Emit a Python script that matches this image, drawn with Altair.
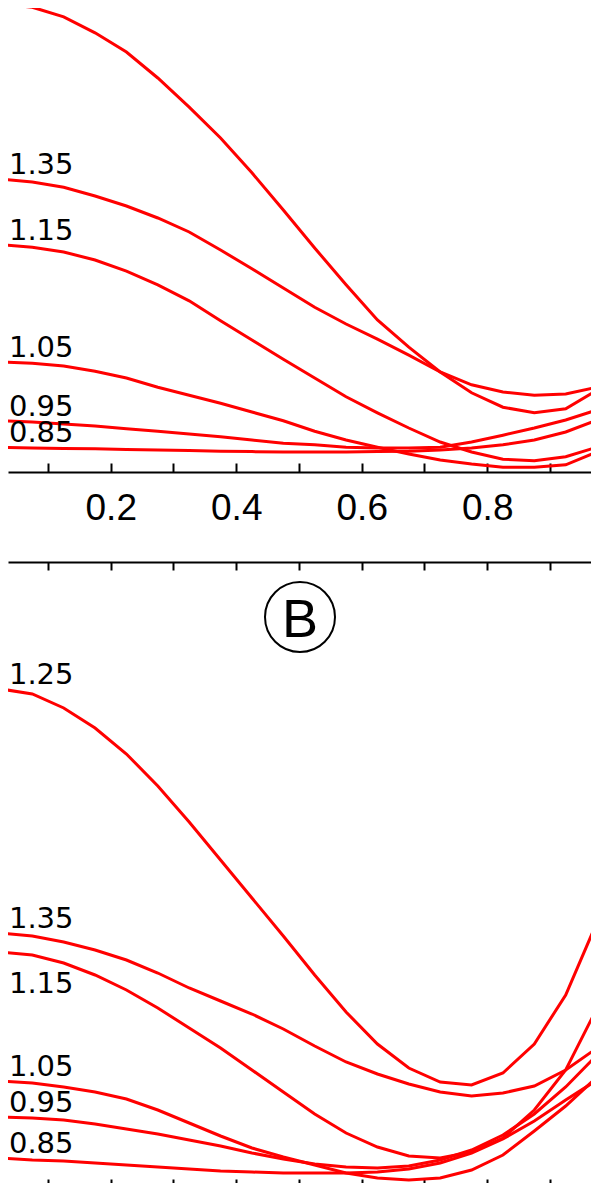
import altair as alt
import pandas as pd

# ---- data ----
x_vals = [0.025, 0.075, 0.125, 0.175, 0.225, 0.275, 0.325, 0.375, 0.425, 0.475,
          0.525, 0.575, 0.625, 0.675, 0.725, 0.775, 0.825, 0.875, 0.925, 0.975]
series = ["0.85", "0.95", "1.05", "1.15", "1.25", "1.35"]

# panel A
a_085 = [0.062, 0.060, 0.059, 0.058, 0.056, 0.055, 0.054, 0.052, 0.051, 0.050,
         0.050, 0.050, 0.051, 0.052, 0.055, 0.060, 0.068, 0.080, 0.100, 0.130]
a_095 = [0.128, 0.125, 0.120, 0.115, 0.108, 0.102, 0.095, 0.088, 0.080, 0.072,
         0.068, 0.062, 0.060, 0.060, 0.062, 0.075, 0.092, 0.110, 0.130, 0.155]
a_105 = [0.275, 0.272, 0.265, 0.252, 0.235, 0.212, 0.192, 0.172, 0.150, 0.128,
         0.102, 0.080, 0.062, 0.045, 0.030, 0.020, 0.012, 0.012, 0.018, 0.050]
a_115 = [0.568, 0.562, 0.550, 0.530, 0.502, 0.468, 0.428, 0.378, 0.330, 0.282,
         0.235, 0.188, 0.148, 0.110, 0.075, 0.050, 0.032, 0.028, 0.038, 0.062]
a_125 = [1.170, 1.162, 1.138, 1.098, 1.050, 0.985, 0.912, 0.835, 0.748, 0.655,
         0.560, 0.468, 0.380, 0.312, 0.250, 0.198, 0.162, 0.148, 0.158, 0.205]
a_135 = [0.732, 0.725, 0.712, 0.690, 0.665, 0.635, 0.600, 0.555, 0.508, 0.460,
         0.412, 0.370, 0.332, 0.292, 0.250, 0.218, 0.200, 0.192, 0.195, 0.212]

# panel B
b_085 = [0.060, 0.056, 0.054, 0.050, 0.046, 0.042, 0.038, 0.034, 0.032, 0.030,
         0.030, 0.030, 0.032, 0.038, 0.050, 0.070, 0.098, 0.134, 0.176, 0.216]
b_095 = [0.142, 0.140, 0.136, 0.128, 0.118, 0.108, 0.096, 0.084, 0.070, 0.058,
         0.048, 0.042, 0.040, 0.044, 0.056, 0.076, 0.106, 0.148, 0.202, 0.266]
b_105 = [0.214, 0.210, 0.202, 0.192, 0.178, 0.156, 0.130, 0.104, 0.080, 0.062,
         0.046, 0.030, 0.020, 0.016, 0.020, 0.036, 0.066, 0.114, 0.164, 0.222]
b_115 = [0.472, 0.466, 0.450, 0.426, 0.396, 0.360, 0.320, 0.280, 0.236, 0.192,
         0.148, 0.110, 0.082, 0.064, 0.060, 0.072, 0.100, 0.156, 0.236, 0.360]
b_125 = [0.998, 0.988, 0.960, 0.920, 0.868, 0.804, 0.732, 0.656, 0.580, 0.504,
         0.426, 0.352, 0.288, 0.240, 0.212, 0.206, 0.230, 0.288, 0.386, 0.532]
b_135 = [0.510, 0.504, 0.492, 0.476, 0.456, 0.430, 0.400, 0.374, 0.348, 0.318,
         0.284, 0.252, 0.228, 0.208, 0.192, 0.184, 0.190, 0.204, 0.236, 0.280]

tick_values = [0.1, 0.2, 0.3, 0.4, 0.5, 0.6, 0.7, 0.8, 0.9]
label_values = [0.2, 0.4, 0.6, 0.8]
panel_letter = "B"

# ---- tables ----
a_series = dict(zip(series, [a_085, a_095, a_105, a_115, a_125, a_135]))
b_series = dict(zip(series, [b_085, b_095, b_105, b_115, b_125, b_135]))


def long_df(d):
    rows = []
    for s, vals in d.items():
        for x, v in zip(x_vals, vals):
            rows.append({"x": x, "v": v, "s": s})
    return pd.DataFrame(rows)


def start_df(d, keys):
    return pd.DataFrame([{"x": x_vals[0], "v": d[k][0], "s": k} for k in keys])


df_a = long_df(a_series)
df_b = long_df(b_series)
# the label of the top curve of panel A lies outside the visible window
lab_a = start_df(a_series, [s for s in series if s != "1.25"])
lab_b_above = start_df(b_series, [s for s in series if s != "1.15"])
lab_b_below = start_df(b_series, ["1.15"])

# ---- layout ----
W, H = 583, 1180
AX_A = 464          # panel A baseline (px from top of view)
AX_B_TOP = 554      # panel B top frame
B_BASE = 1180       # panel B baseline
x_dom = [0.036255, 0.965339]
xs = alt.Scale(domain=x_dom, nice=False, zero=False)
yA = alt.Scale(domain=[(AX_A - H) / 400, AX_A / 400], nice=False, zero=False)
yB = alt.Scale(domain=[(B_BASE - H) / 500, B_BASE / 500], nice=False, zero=False)

common_ax = dict(grid=False, title=None, domainColor="black", domainWidth=2,
                 tickColor="black", tickWidth=2)

ax_a_ticks = alt.Axis(orient="top", offset=-AX_A, values=tick_values, labels=False,
                      tickSize=9, **common_ax)
ax_a_labels = alt.Axis(orient="bottom", offset=-(H - AX_A), values=label_values,
                       format=".1f", ticks=False, tickSize=0, domain=False,
                       labelFlush=False, labelOverlap=False, labelFont="Liberation Sans",
                       labelFontSize=37, labelColor="black", labelPadding=18,
                       grid=False, title=None)
ax_b_top = alt.Axis(orient="bottom", offset=-(H - AX_B_TOP), values=tick_values,
                    labels=False, tickSize=8, **common_ax)
ax_b_bottom = alt.Axis(orient="top", offset=-B_BASE, values=tick_values, labels=False,
                       tickSize=9, **common_ax)

line_style = dict(color="#ff0000", strokeWidth=3, clip=True)
text_style = dict(align="left", baseline="alphabetic", font="DejaVu Sans",
                  fontSize=29, color="black", dx=8)

lines_a = alt.Chart(df_a).mark_line(**line_style).encode(
    x=alt.X("x:Q", scale=xs, axis=ax_a_ticks),
    y=alt.Y("v:Q", scale=yA, axis=None),
    detail="s:N",
)
labels_a = alt.Chart(lab_a).mark_text(dy=-5, **text_style).encode(
    x=alt.X("x:Q", scale=xs, axis=ax_a_labels),
    y=alt.Y("v:Q", scale=yA, axis=None),
    text="s:N",
)
lines_b = alt.Chart(df_b).mark_line(**line_style).encode(
    x=alt.X("x:Q", scale=xs, axis=ax_b_top),
    y=alt.Y("v:Q", scale=yB, axis=None),
    detail="s:N",
)
labels_b = alt.Chart(lab_b_above).mark_text(dy=-5, **text_style).encode(
    x=alt.X("x:Q", scale=xs, axis=ax_b_bottom),
    y=alt.Y("v:Q", scale=yB, axis=None),
    text="s:N",
)
labels_b2 = alt.Chart(lab_b_below).mark_text(dy=41, **text_style).encode(
    x=alt.X("x:Q", scale=xs, axis=None),
    y=alt.Y("v:Q", scale=yB, axis=None),
    text="s:N",
)

letter_df = pd.DataFrame({"t": [panel_letter]})
ring = alt.Chart(letter_df).mark_point(shape="circle", size=4900, filled=False,
                                       stroke="black", strokeWidth=2, opacity=1).encode(
    x=alt.value(292), y=alt.value(609)
)
letter = alt.Chart(letter_df).mark_text(align="center", baseline="alphabetic",
                                        font="Liberation Sans", fontSize=54,
                                        color="black").encode(
    x=alt.value(292), y=alt.value(629), text="t:N"
)

chart = alt.layer(lines_a, labels_a, lines_b, labels_b, labels_b2, ring, letter).resolve_scale(
    y="independent"
).resolve_axis(
    x="independent", y="independent"
).properties(
    width=W, height=H, autosize=alt.AutoSizeParams(type="none"), padding=0
).configure(background="white").configure_view(stroke=None)

chart.save("out.html", embed_options={"renderer": "svg", "actions": False})
